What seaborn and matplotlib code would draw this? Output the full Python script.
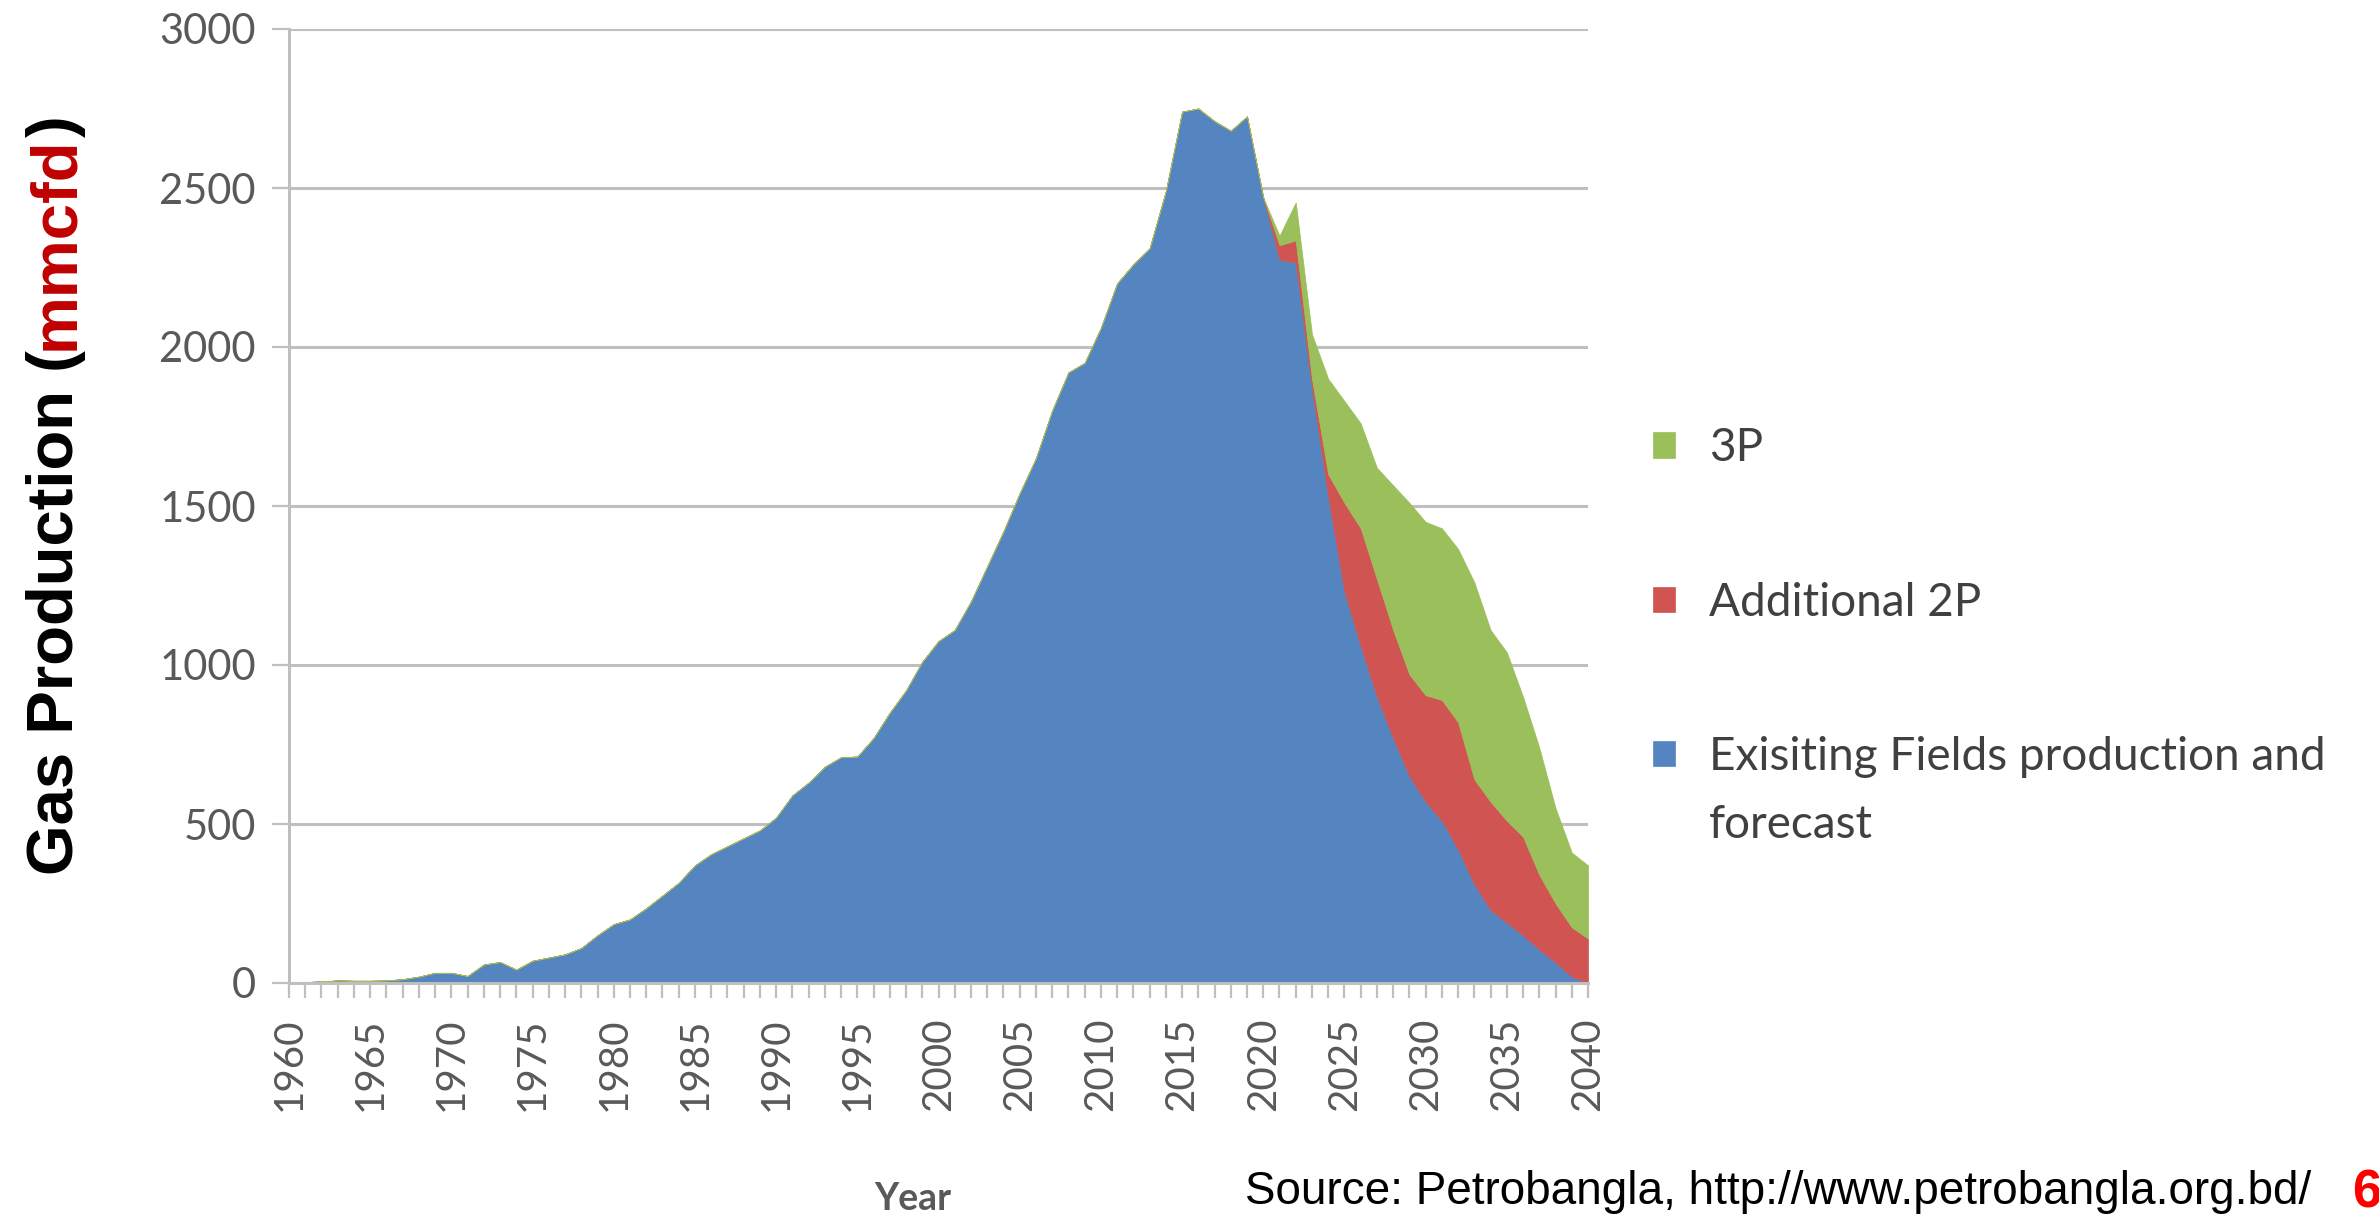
import matplotlib
matplotlib.use("Agg")
import matplotlib.pyplot as plt
import numpy as np
import pandas as pd
import seaborn as sns

years = list(range(1960, 2041))
existing = [2, 3, 5, 8, 7, 7, 8, 12, 20, 32,
            32, 22, 58, 66, 42, 70, 80, 90, 110, 150,
            185, 200, 235, 275, 315, 370, 405, 430, 455, 480,
            520, 590, 630, 680, 710, 712, 770, 850, 920, 1010,
            1075, 1110, 1200, 1310, 1420, 1540, 1650, 1800, 1920, 1950,
            2060, 2200, 2260, 2310, 2490, 2740, 2750, 2710, 2680, 2725,
            2470, 2275, 2265, 1870, 1530, 1230, 1060, 900, 770, 650,
            570, 510, 420, 310, 230, 190, 150, 105, 65, 20,
            0]

forecast_years = list(range(2020, 2041))
additional_2p = [0, 45, 70, 30, 70, 280, 370, 370, 340, 320,
                 335, 380, 400, 330, 340, 320, 310, 235, 185, 155, 140]
p3 = [0, 30, 120, 140, 300, 320, 330, 350, 455, 540,
      545, 540, 545, 620, 540, 530, 440, 400, 300, 235, 230]

labels = ['Exisiting Fields production and', 'Additional 2P', '3P']
colors = ['#5585c1', '#cf5452', '#9bbf5a']

df = pd.DataFrame({'Year': years, 'Existing': existing})
fc = pd.DataFrame({'Year': forecast_years, 'Add2P': additional_2p, 'P3': p3})
df = df.merge(fc, on='Year', how='left').fillna(0)

sns.set_style("white")
plt.rcParams['font.family'] = ['Lato', 'DejaVu Sans']

W, H = 2379, 1215
fig = plt.figure(figsize=(W / 100, H / 100), dpi=100)
ax = fig.add_axes([289 / W, 1 - 983 / H, (1588 - 289) / W, (983 - 29) / H])

polys = ax.stackplot(df['Year'], df['Existing'], df['Add2P'], df['P3'],
                     colors=colors, linewidth=0.5, edgecolor='face', zorder=3)

grey = '#bfbfbf'
ax.set_xlim(1960, 2040)
ax.set_ylim(0, 3000)
ax.set_yticks(range(0, 3001, 500))
ax.set_xticks(range(1960, 2041, 5))
ax.set_xticks(range(1960, 2041), minor=True)
ax.yaxis.grid(True, color=grey, lw=2.2, zorder=0)
ax.xaxis.grid(False)
ax.set_axisbelow(True)
sns.despine(ax=ax)
for s in ['left', 'bottom']:
    ax.spines[s].set_color(grey)
    ax.spines[s].set_linewidth(2.2)
    ax.spines[s].set_zorder(4)

ax.tick_params(axis='y', direction='out', length=12, width=1.6, color=grey,
               pad=12, labelsize=30, labelcolor='#595959', left=True)
ax.tick_params(axis='x', which='both', direction='out', length=11, width=1.6,
               color=grey, pad=14, labelsize=29, labelcolor='#595959', bottom=True)
plt.setp(ax.get_xticklabels(), rotation=90)

leg = ax.legend(handles=[polys[2], polys[1], polys[0]],
                labels=[labels[2], labels[1], labels[0]],
                loc='upper left', bbox_to_anchor=(1612 / W, 1 - 386 / H),
                bbox_transform=fig.transFigure, frameon=False,
                fontsize=33, handlelength=0.47, handleheight=0.47,
                handletextpad=0.75, labelspacing=2.45)
for t in leg.get_texts():
    t.set_color('#404040')

fig.text(913 / W, 1 - 1210 / H, 'Year', ha='center', va='baseline',
         fontsize=27, fontweight='bold', color='#595959')

fig.canvas.draw()
rend = fig.canvas.get_renderer()

# second line of the last legend label, placed under the first line
bb = leg.get_texts()[2].get_window_extent(renderer=rend)
fig.text(bb.x0 / W, (bb.y0 - 68) / H, 'forecast', ha='left', va='bottom',
         fontsize=33, color='#404040')

# y label in three coloured pieces, stacked upwards
y0 = 1 - 875 / H
pieces = [('Gas Production (', 'black'), ('mmcfd', '#c00000'), (')', 'black')]
for txt, col in pieces:
    t = fig.text(73 / W, y0, txt, rotation=90, rotation_mode='anchor',
                 ha='left', va='baseline', fontsize=47, fontweight='bold',
                 color=col, family=['Liberation Sans', 'DejaVu Sans'])
    tb = t.get_window_extent(renderer=rend)
    y0 += tb.height / H

fig.text(1245 / W, 1 - 1204 / H, 'Source: Petrobangla, http://www.petrobangla.org.bd/',
         ha='left', va='baseline', fontsize=33, color='black',
         family=['Liberation Sans', 'DejaVu Sans'])
fig.text(2367 / W, 1 - 1207 / H, '6', ha='center', va='baseline', fontsize=38,
         fontweight='bold', color='#ff0000', family=['Liberation Sans', 'DejaVu Sans'])

fig.savefig('out.png', dpi=100)
